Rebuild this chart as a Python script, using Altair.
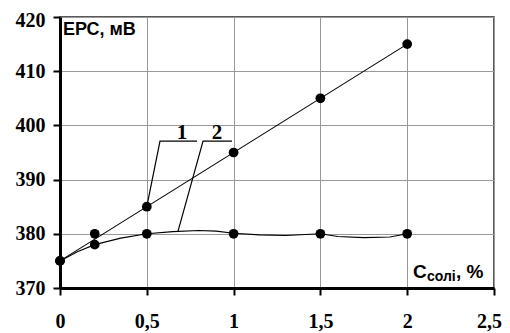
import altair as alt
import pandas as pd

# measured points
x_pts = [0, 0.2, 0.5, 1, 1.5, 2]
s1_pts = [375, 380, 385, 395, 405, 415]
s2_pts = [375, 378, 380, 380, 380, 380]

# trend lines
t1_x = [0, 2]
t1_y = [375, 415]
t2_x = [0, 0.1, 0.2, 0.35, 0.5, 0.65, 0.8, 0.9, 1.0, 1.15, 1.3, 1.5, 1.6, 1.75, 1.9, 2.0]
t2_y = [375, 376.7, 378, 379.2, 380, 380.4, 380.6, 380.5, 380.1, 379.8, 379.7, 380, 379.5, 379.3, 379.4, 380]

# leader lines for labels "1" and "2"
lead1_x = [0.5, 0.576, 0.789]
lead1_y = [385, 397.1, 397.1]
lead2_x = [0.68, 0.824, 0.991]
lead2_y = [380.5, 397.1, 397.1]
lab_text = ["1", "2"]
lab_x = [0.703, 0.904]
lab_y = [397.1, 397.1]

x_ticks = [0, 0.5, 1, 1.5, 2, 2.5]
y_ticks = [370, 380, 390, 400, 410, 420]

pts = pd.DataFrame({"x": x_pts * 2, "y": s1_pts + s2_pts,
                    "s": ["1"] * 6 + ["2"] * 6})
trend = pd.DataFrame({"x": t1_x + t2_x, "y": t1_y + t2_y,
                      "s": ["1"] * len(t1_x) + ["2"] * len(t2_x),
                      "o": list(range(len(t1_x))) + list(range(len(t2_x)))})
lead = pd.DataFrame({"x": lead1_x + lead2_x, "y": lead1_y + lead2_y,
                     "s": ["1"] * 3 + ["2"] * 3, "o": [0, 1, 2] * 2})
labs = pd.DataFrame({"t": lab_text, "x": lab_x, "y": lab_y})

xs = alt.Scale(domain=[0, 2.5], nice=False, zero=False)
ys = alt.Scale(domain=[370, 420], nice=False, zero=False)

SERIF = "Times New Roman, Liberation Serif, serif"
SANS = "Arial, Liberation Sans, sans-serif"

xax = alt.Axis(values=x_ticks, labelExpr="replace(toString(datum.value), '.', ',')",
               tickSize=7, tickWidth=2, tickColor="black", domainWidth=3, domainColor="black",
               labelFont=SERIF, labelFontWeight=700, labelFontSize=20,
               labelColor="black", labelPadding=16, gridColor="#999", gridWidth=1,
               labelFlush=False,
               labelOffset={"condition": {"test": "datum.value == 2.5", "value": -5}, "value": 0})
yax = alt.Axis(values=y_ticks, tickSize=7, tickWidth=2, tickColor="black",
               domainWidth=3, domainColor="black",
               labelFont=SERIF, labelFontWeight=700, labelFontSize=20,
               labelColor="black", labelPadding=8, gridColor="#999", gridWidth=1,
               labelFlush=False,
               labelOffset={"condition": {"test": "datum.value == 420", "value": 3}, "value": 0})

base_x = alt.X("x:Q", scale=xs, axis=xax, title=None)
base_y = alt.Y("y:Q", scale=ys, axis=yax, title=None)

lines = alt.Chart(trend).mark_line(color="black", strokeWidth=1.1).encode(
    x=base_x, y=base_y, detail="s:N", order="o:Q")
dots = alt.Chart(pts).mark_circle(color="black", size=95, opacity=1).encode(
    x=alt.X("x:Q", scale=xs), y=alt.Y("y:Q", scale=ys))
leads = alt.Chart(lead).mark_line(color="black", strokeWidth=1.2).encode(
    x=alt.X("x:Q", scale=xs), y=alt.Y("y:Q", scale=ys), detail="s:N", order="o:Q")
labels = alt.Chart(labs).mark_text(font=SERIF, fontWeight=700, fontSize=21,
                                   baseline="alphabetic", dy=-2, color="black").encode(
    x=alt.X("x:Q", scale=xs), y=alt.Y("y:Q", scale=ys), text="t:N")

title_df = pd.DataFrame({"x": [0.017], "y": [416.7], "t": ["ЕРС, мВ"]})
ytitle = alt.Chart(title_df).mark_text(font=SANS, fontWeight=700, fontSize=18,
                                       align="left", baseline="alphabetic", color="black").encode(
    x=alt.X("x:Q", scale=xs), y=alt.Y("y:Q", scale=ys), text="t:N")

xt_df = pd.DataFrame({"x": [2.033], "y": [371.8]})
xt_c = alt.Chart(xt_df).mark_text(text="C", font=SANS, fontWeight=700, fontSize=19,
                                  align="left", baseline="alphabetic", color="black").encode(
    x=alt.X("x:Q", scale=xs), y=alt.Y("y:Q", scale=ys))
xt_sub = alt.Chart(xt_df).mark_text(text="солі", font=SANS, fontWeight=700, fontSize=14,
                                    align="left", baseline="alphabetic", dx=14, dy=3, color="black").encode(
    x=alt.X("x:Q", scale=xs), y=alt.Y("y:Q", scale=ys))
xt_rest = alt.Chart(xt_df).mark_text(text=", %", font=SANS, fontWeight=700, fontSize=19,
                                     align="left", baseline="alphabetic", dx=43, color="black").encode(
    x=alt.X("x:Q", scale=xs), y=alt.Y("y:Q", scale=ys))

chart = alt.layer(lines, leads, dots, labels, ytitle, xt_c, xt_sub, xt_rest).properties(
    width=434, height=271,
    autosize=alt.AutoSizeParams(type="none"),
    padding={"left": 52, "top": 9, "right": 8, "bottom": 50},
).configure_view(stroke="#222", strokeWidth=1.5)

chart.save("out.html", embed_options={"renderer": "svg", "actions": False})
